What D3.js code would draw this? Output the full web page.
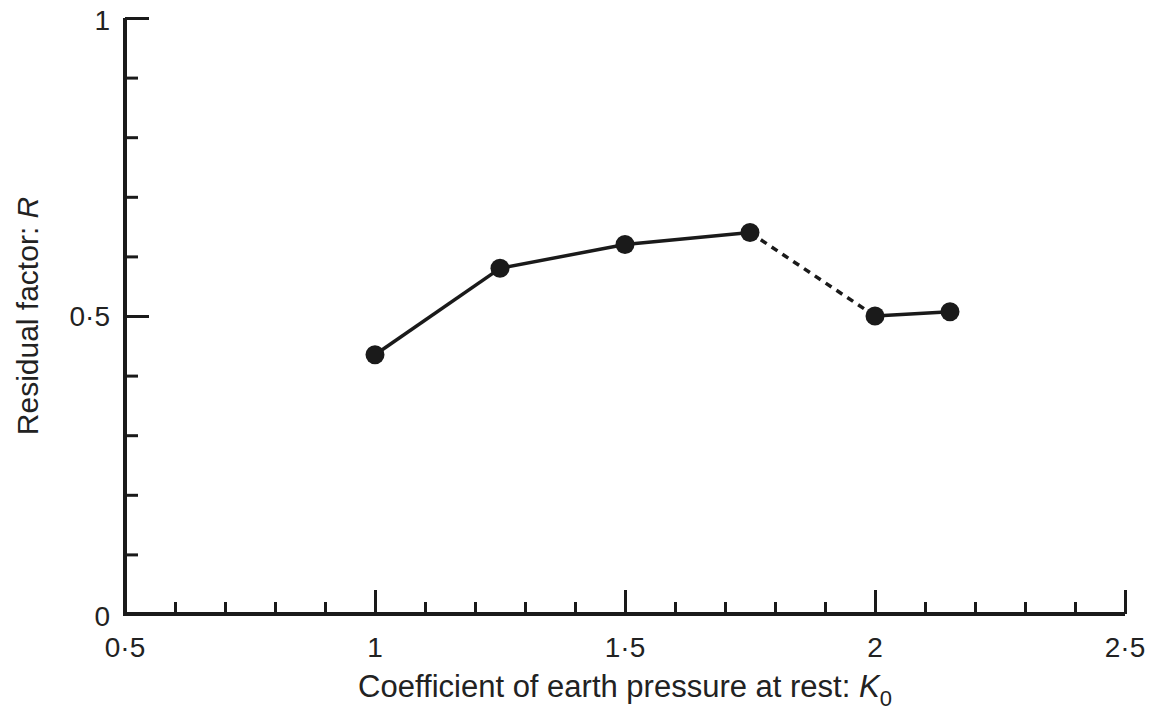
<!DOCTYPE html>
<html>
<head>
<meta charset="utf-8">
<script src="https://cdn.jsdelivr.net/npm/d3@7"></script>
<style>
  body { margin: 0; background: #fff; }
  svg { display: block; font-family: "Liberation Sans", Arial, sans-serif; }
  .axis line { stroke: #1a1a1a; stroke-width: 3; }
</style>
</head>
<body>
<svg width="1151" height="713"></svg>
<script>
// K0 values and residual factor R
const k0 = [1, 1.25, 1.5, 1.75, 2, 2.15];
const residual = [0.435, 0.58, 0.62, 0.64, 0.5, 0.507];
// segment i joins point i and i+1; dashed between 1.75 and 2
const segmentDashed = [false, false, false, true, false];

const xMajor = [1, 1.5, 2, 2.5];
const yMajor = [0.5, 1];
const xLabels = [0.5, 1, 1.5, 2, 2.5];
const yLabels = [0, 0.5, 1];

const fmt = v => String(v).replace(".", "\u00b7");

const svg = d3.select("svg");
const x = d3.scaleLinear().domain([0.5, 2.5]).range([125, 1125]);
const y = d3.scaleLinear().domain([0, 1]).range([614, 18]);

// minor ticks every 0.1
const xMinor = d3.range(6, 25).map(d => d / 10);
const yMinor = d3.range(1, 10).map(d => d / 10);

svg.append("g").attr("class", "axis")
  .attr("transform", `translate(0,${y(0)})`)
  .call(d3.axisBottom(x).tickValues(xMinor).tickSize(-12).tickFormat(""))
  .select(".domain").remove();
svg.append("g").attr("class", "axis")
  .attr("transform", `translate(0,${y(0)})`)
  .call(d3.axisBottom(x).tickValues(xMajor).tickSize(-24).tickFormat(""))
  .select(".domain").remove();

svg.append("g").attr("class", "axis")
  .attr("transform", `translate(${x(0.5)},0)`)
  .call(d3.axisLeft(y).tickValues(yMinor).tickSize(-13).tickFormat(""))
  .select(".domain").remove();
svg.append("g").attr("class", "axis")
  .attr("transform", `translate(${x(0.5)},0)`)
  .call(d3.axisLeft(y).tickValues(yMajor).tickSize(-24).tickFormat(""))
  .select(".domain").remove();

// axis lines
svg.append("path")
  .attr("d", `M${x(0.5)},${y(1)}V${y(0)}H${x(2.5)}`)
  .attr("fill", "none").attr("stroke", "#1a1a1a").attr("stroke-width", 4);

// tick labels
svg.append("g").selectAll("text")
  .data(xLabels).join("text")
  .attr("x", d => x(d))
  .attr("y", 657)
  .attr("text-anchor", "middle")
  .attr("font-size", 28).attr("fill", "#222")
  .text(fmt);

svg.append("g").selectAll("text")
  .data(yLabels).join("text")
  .attr("x", 110)
  .attr("y", d => y(d) + (d === 0 ? 12 : d === 1 ? 12 : 10))
  .attr("text-anchor", "end")
  .attr("font-size", 28).attr("fill", "#222")
  .text(fmt);

// axis titles
const xt = svg.append("text")
  .attr("x", x(1.5)).attr("y", 697)
  .attr("text-anchor", "middle")
  .attr("font-size", 31).attr("fill", "#222");
xt.append("tspan").text("Coefficient of earth pressure at rest: ");
xt.append("tspan").attr("font-style", "italic").text("K");
xt.append("tspan").attr("dy", 9).attr("font-size", 22).text("0");

const yt = svg.append("text")
  .attr("transform", `translate(38,${y(0.5)}) rotate(-90)`)
  .attr("text-anchor", "middle")
  .attr("font-size", 30).attr("fill", "#222");
yt.append("tspan").text("Residual factor: ");
yt.append("tspan").attr("font-style", "italic").text("R");

// data
const pts = k0.map((k, i) => ({ k, r: residual[i] }));
const segs = d3.range(pts.length - 1).map(i => ({ a: pts[i], b: pts[i + 1], dashed: segmentDashed[i] }));

svg.append("g").selectAll("line")
  .data(segs).join("line")
  .attr("x1", d => x(d.a.k)).attr("y1", d => y(d.a.r))
  .attr("x2", d => x(d.b.k)).attr("y2", d => y(d.b.r))
  .attr("stroke", "#1a1a1a")
  .attr("stroke-width", 3.5)
  .attr("stroke-dasharray", d => d.dashed ? "7,6" : null);

svg.append("g").selectAll("circle")
  .data(pts).join("circle")
  .attr("cx", d => x(d.k)).attr("cy", d => y(d.r))
  .attr("r", 9.5)
  .attr("fill", "#1a1a1a");
</script>
</body>
</html>
